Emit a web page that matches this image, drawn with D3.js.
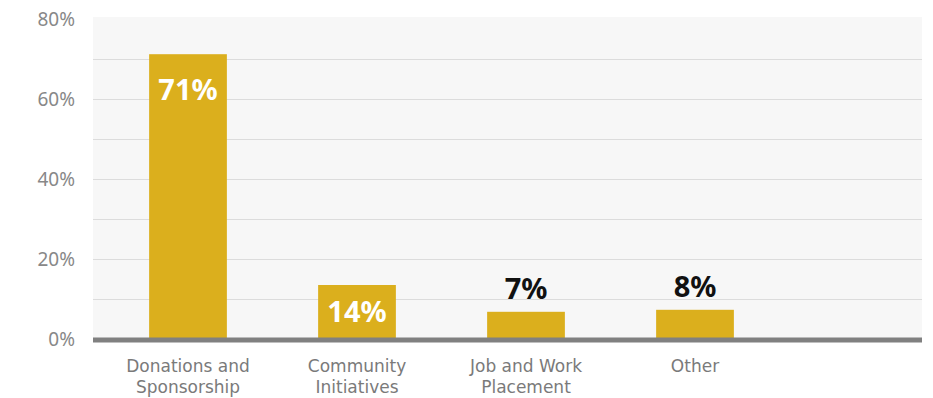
<!DOCTYPE html>
<html>
<head>
<meta charset="utf-8">
<script src="https://cdn.jsdelivr.net/npm/d3@7"></script>
<style>
  body { margin: 0; background: #fff; }
  svg text { font-family: "Noto Sans", "Open Sans", sans-serif; }
</style>
</head>
<body>
<svg id="chart"></svg>
<script>
const categories = [["Donations and", "Sponsorship"], ["Community", "Initiatives"], ["Job and Work", "Placement"], ["Other"]];
const values = [71.2, 13.5, 6.8, 7.3];
const valueLabels = ["71%", "14%", "7%", "8%"];
const yTicks = [0, 20, 40, 60, 80];

const width = 933, height = 398;
const plot = { left: 93, right: 922, top: 17, zero: 339 };

const svg = d3.select("#chart").attr("width", width).attr("height", height);

const y = d3.scaleLinear().domain([0, 80]).range([plot.zero, 19]);
const x = d3.scaleBand()
  .domain(d3.range(values.length))
  .range([103.5, 779.5])
  .paddingInner(0.54)
  .paddingOuter(0.27);

// plot background
svg.append("rect")
  .attr("x", plot.left)
  .attr("y", plot.top)
  .attr("width", plot.right - plot.left)
  .attr("height", plot.zero - plot.top)
  .attr("fill", "#f7f7f7");

// grid lines every 10%
svg.append("g")
  .selectAll("line")
  .data(d3.range(10, 80, 10))
  .enter()
  .append("line")
  .attr("x1", plot.left)
  .attr("x2", plot.right)
  .attr("y1", (d) => Math.round(y(d)) + 0.5)
  .attr("y2", (d) => Math.round(y(d)) + 0.5)
  .attr("stroke", "#dcdcdc")
  .attr("stroke-width", 1);

// y axis labels
const yAxis = d3.axisLeft(y).tickValues(yTicks).tickFormat((d) => d + "%").tickSize(0).tickPadding(0);
const yg = svg.append("g").attr("transform", "translate(75,0)").call(yAxis);
yg.select(".domain").remove();
yg.selectAll("text")
  .attr("fill", "#888")
  .style("font-size", "19px");

// bars
svg.append("g")
  .selectAll("rect")
  .data(values)
  .enter()
  .append("rect")
  .attr("x", (d, i) => x(i))
  .attr("y", (d) => y(d))
  .attr("width", x.bandwidth())
  .attr("height", (d) => y(0) - y(d))
  .attr("fill", "#dbaf1d");

// value labels: inside tall bars, above short ones
svg.append("g")
  .selectAll("text")
  .data(values)
  .enter()
  .append("text")
  .attr("x", (d, i) => x(i) + x.bandwidth() / 2)
  .attr("y", (d) => (d > 10 ? Math.min(y(d) + 46, (y(d) + y(0)) / 2 + 10) : y(d) - 13))
  .attr("text-anchor", "middle")
  .attr("fill", (d) => (d > 10 ? "#fff" : "#111"))
  .style("font-size", "29px")
  .style("font-weight", "bold")
  .text((d, i) => valueLabels[i]);

// baseline
svg.append("line")
  .attr("x1", plot.left)
  .attr("x2", plot.right)
  .attr("y1", y(0) + 1)
  .attr("y2", y(0) + 1)
  .attr("stroke", "#808080")
  .attr("stroke-width", 5);

// category labels, one text per line
categories.forEach((lines, i) => {
  lines.forEach((line, j) => {
    svg.append("text")
      .attr("x", x(i) + x.bandwidth() / 2)
      .attr("y", 372 + j * 21)
      .attr("text-anchor", "middle")
      .attr("fill", "#7a7a7a")
      .style("font-family", "'DejaVu Sans', sans-serif")
      .style("font-size", "17px")
      .text(line);
  });
});
</script>
</body>
</html>
